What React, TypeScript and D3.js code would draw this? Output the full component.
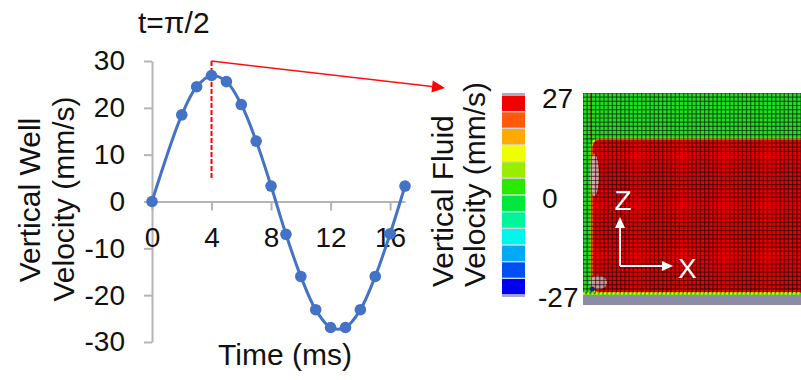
import * as d3 from 'd3';
import React, { useEffect, useRef } from 'react';

// well velocity trace (time in ms, velocity in mm/s)
const timeMs = [0, 2, 3, 4, 5, 6, 7, 8, 9, 10, 11, 12, 13, 14, 15, 16, 17];
const wellVelocity = [
  0, 18.5, 24.5, 26.9, 25.6, 20.7, 12.9, 3.3, -7.0, -16.0, -23.1, -26.9, -26.9,
  -23.1, -16.0, -6.9, 3.3,
];
const velocityTicks = [-30, -20, -10, 0, 10, 20, 30];
const timeTicks = [0, 4, 8, 12, 16];
const markerTime = 4;

// contour legend, bottom to top
const legendColors = [
  '#0000f0', '#0050f0', '#00aaf5', '#00f5eb', '#00f59a', '#00e840',
  '#2ae800', '#99ee00', '#eeff00', '#ffaa00', '#ff5a0a', '#f20000',
];
const legendTicks = [-27, 0, 27];

// simulation snapshot, in mesh cells
const meshCols = 52;
const meshRows = 48;
const wallCols = 2;
const plugTopRow = 11;
const ambientVelocity = 0;
const plugVelocity = 27;

const FONT = '"Liberation Sans", Arial, sans-serif';
const AXIS = '#b4b4b4';
const BLUE = '#4472c4';
const fmt = (d: d3.NumberValue) => String(d);

export default function App() {
  const ref = useRef<SVGSVGElement>(null);

  useEffect(() => {
    if (!ref.current) return;
    const svg = d3.select(ref.current);
    svg.selectAll('*').remove();

    const x = d3.scaleLinear().domain([0, 17]).range([152, 405]);
    const y = d3.scaleLinear().domain([-30, 30]).range([342, 61]);

    // Y axis
    const yAxis = svg
      .append('g')
      .attr('transform', `translate(${x(0)},0)`)
      .call(
        d3
          .axisLeft(y)
          .tickValues(velocityTicks)
          .tickFormat(fmt)
          .tickSize(8)
          .tickPadding(19)
          .tickSizeOuter(0)
      );
    yAxis.select('.domain').attr('stroke', AXIS).attr('stroke-width', 2);
    yAxis.selectAll('.tick line').attr('stroke', AXIS).attr('stroke-width', 2);
    yAxis
      .selectAll('.tick text')
      .attr('font-size', 28)
      .attr('font-family', FONT)
      .attr('fill', '#111');

    // X axis at zero
    const xAxis = svg
      .append('g')
      .attr('transform', `translate(0,${y(0)})`)
      .call(
        d3
          .axisBottom(x)
          .tickValues(timeTicks)
          .tickFormat(fmt)
          .tickSize(9)
          .tickPadding(17)
          .tickSizeOuter(0)
      );
    xAxis.select('.domain').attr('stroke', AXIS).attr('stroke-width', 2);
    xAxis.selectAll('.tick line').attr('stroke', AXIS).attr('stroke-width', 2);
    xAxis
      .selectAll('.tick text')
      .attr('font-size', 28)
      .attr('font-family', FONT)
      .attr('fill', '#111');

    // marker at t = pi/2
    svg
      .append('line')
      .attr('x1', x(markerTime))
      .attr('x2', x(markerTime))
      .attr('y1', y(30))
      .attr('y2', y(5))
      .attr('stroke', '#ff0000')
      .attr('stroke-width', 2)
      .attr('stroke-dasharray', '5,2');

    // series
    const pts = timeMs.map((t, i) => [t, wellVelocity[i]] as [number, number]);
    const line = d3
      .line<[number, number]>()
      .x(d => x(d[0]))
      .y(d => y(d[1]))
      .curve(d3.curveCatmullRom.alpha(0.5));
    svg
      .append('path')
      .datum(pts)
      .attr('d', line)
      .attr('fill', 'none')
      .attr('stroke', BLUE)
      .attr('stroke-width', 3);
    svg
      .append('g')
      .selectAll('circle')
      .data(pts)
      .enter()
      .append('circle')
      .attr('cx', d => x(d[0]))
      .attr('cy', d => y(d[1]))
      .attr('r', 5.8)
      .attr('fill', BLUE);

    // arrow to the snapshot
    const ax0 = x(markerTime);
    const ay0 = y(30);
    const ax1 = 445;
    const ay1 = 88;
    const ang = Math.atan2(ay1 - ay0, ax1 - ax0);
    const hl = 13;
    const hw = 6;
    const bx = ax1 - hl * Math.cos(ang);
    const by = ay1 - hl * Math.sin(ang);
    svg
      .append('line')
      .attr('x1', ax0)
      .attr('y1', ay0)
      .attr('x2', bx)
      .attr('y2', by)
      .attr('stroke', '#ff1010')
      .attr('stroke-width', 1.5);
    svg
      .append('polygon')
      .attr(
        'points',
        [
          [ax1, ay1],
          [bx + hw * Math.sin(ang), by - hw * Math.cos(ang)],
          [bx - hw * Math.sin(ang), by + hw * Math.cos(ang)],
        ]
          .map(p => p.join(','))
          .join(' ')
      )
      .attr('fill', '#ff0000');

    // titles
    const text = (s: string, px: number, py: number, size: number, anchor = 'start') =>
      svg
        .append('text')
        .attr('x', px)
        .attr('y', py)
        .attr('font-size', size)
        .attr('font-family', FONT)
        .attr('fill', '#111')
        .attr('text-anchor', anchor)
        .text(s);

    text('t=π/2', 138, 33, 30);
    text('Time (ms)', 285, 365, 30, 'middle');
    text('Vertical Well', 0, 0, 30, 'middle').attr('transform', 'translate(40,200) rotate(-90)');
    text('Velocity (mm/s)', 0, 0, 30, 'middle').attr('transform', 'translate(74,199) rotate(-90)');
    text('Vertical Fluid', 0, 0, 30).attr('transform', 'translate(453,287) rotate(-90)');
    text('Velocity (mm/s)', 0, 0, 30).attr('transform', 'translate(485,287) rotate(-90)');

    // colour legend
    const band = d3
      .scaleBand<number>()
      .domain(d3.range(legendColors.length))
      .range([295, 95])
      .paddingInner(0);
    const lg = svg.append('g');
    lg.append('rect')
      .attr('x', 502)
      .attr('y', 93)
      .attr('width', 23)
      .attr('height', 204)
      .attr('fill', '#a8a8c8');
    lg.selectAll('rect.sep')
      .data(legendColors)
      .enter()
      .append('rect')
      .attr('class', 'sep')
      .attr('x', 502)
      .attr('y', (d, i) => band(i) ?? 0)
      .attr('width', 23)
      .attr('height', band.bandwidth())
      .attr('fill', '#d8dce4');
    lg.selectAll('rect.cell')
      .data(legendColors)
      .enter()
      .append('rect')
      .attr('class', 'cell')
      .attr('x', 502)
      .attr('y', (d, i) => (band(i) ?? 0) + 0.7)
      .attr('width', 23)
      .attr('height', band.bandwidth() - 1.4)
      .attr('fill', d => d);
    const legendY = d3.scaleLinear().domain([-27, 27]).range([297, 98]);
    lg.selectAll('text')
      .data(legendTicks)
      .enter()
      .append('text')
      .attr('x', d => (d < 0 ? 538 : 542))
      .attr('y', d => legendY(d))
      .attr('dy', '0.36em')
      .attr('font-size', 28)
      .attr('font-family', FONT)
      .attr('fill', '#111')
      .text(d => d);

    // simulation snapshot
    const color = d3.scaleQuantize<string>().domain([-27, 27]).range(legendColors);
    const fx = d3.scaleLinear().domain([0, meshCols]).range([583, 801]);
    const fy = d3.scaleLinear().domain([0, meshRows]).range([93, 293]);
    const defs = svg.append('defs');
    defs
      .append('clipPath')
      .attr('id', 'field-clip')
      .append('rect')
      .attr('x', fx(0))
      .attr('y', fy(0))
      .attr('width', fx(meshCols) - fx(0))
      .attr('height', fy(meshRows) - fy(0) + 3);
    const field = svg.append('g').attr('clip-path', 'url(#field-clip)');
    field
      .append('rect')
      .attr('x', fx(0))
      .attr('y', fy(0))
      .attr('width', fx(meshCols) - fx(0))
      .attr('height', fy(meshRows) - fy(0) + 3)
      .attr('fill', '#22dd22');
    field
      .append('rect')
      .attr('x', fx(wallCols))
      .attr('y', fy(plugTopRow))
      .attr('width', fx(meshCols + 4) - fx(wallCols))
      .attr('height', fy(meshRows) - fy(plugTopRow))
      .attr('rx', 8)
      .attr('fill', color(plugVelocity) === '#f20000' ? '#e60000' : color(plugVelocity))
      .attr('stroke', '#e8e000')
      .attr('stroke-width', 2);
    // grey patches near the wall
    field
      .append('ellipse')
      .attr('cx', fx(2.7))
      .attr('cy', fy(19.7))
      .attr('rx', 4.5)
      .attr('ry', 21)
      .attr('fill', '#d0d0d0')
      .attr('opacity', 0.8);
    field
      .append('ellipse')
      .attr('cx', fx(3.6))
      .attr('cy', fy(45.5))
      .attr('rx', 9)
      .attr('ry', 7)
      .attr('fill', '#c8c8c8')
      .attr('opacity', 0.75);
    field
      .append('line')
      .attr('x1', fx(wallCols) - 0.5)
      .attr('x2', fx(wallCols) - 0.5)
      .attr('y1', fy(0))
      .attr('y2', fy(plugTopRow))
      .attr('stroke', '#a05a28')
      .attr('stroke-width', 1.5);
    // mesh
    field
      .append('g')
      .selectAll('line')
      .data(d3.range(meshCols + 1))
      .enter()
      .append('line')
      .attr('x1', d => fx(d))
      .attr('x2', d => fx(d))
      .attr('y1', fy(0))
      .attr('y2', fy(meshRows))
      .attr('stroke', '#000')
      .attr('stroke-opacity', 0.55)
      .attr('stroke-width', 1.2);
    field
      .append('g')
      .selectAll('line')
      .data(d3.range(meshRows + 1))
      .enter()
      .append('line')
      .attr('x1', fx(0))
      .attr('x2', fx(meshCols))
      .attr('y1', d => fy(d))
      .attr('y2', d => fy(d))
      .attr('stroke', '#000')
      .attr('stroke-opacity', 0.55)
      .attr('stroke-width', 1.2);
    field
      .append('line')
      .attr('x1', fx(0))
      .attr('x2', fx(meshCols))
      .attr('y1', fy(meshRows) + 0.5)
      .attr('y2', fy(meshRows) + 0.5)
      .attr('stroke', '#e6e600')
      .attr('stroke-width', 2.5)
      .attr('stroke-dasharray', '2.2,2');
    field
      .append('circle')
      .attr('cx', fx(wallCols) + 1)
      .attr('cy', fy(meshRows) - 4)
      .attr('r', 2.5)
      .attr('fill', '#1a2a6a');
    svg
      .append('rect')
      .attr('x', fx(0))
      .attr('y', 296)
      .attr('width', fx(meshCols) - fx(0))
      .attr('height', 9)
      .attr('fill', '#8c8ca6');

    // Z / X direction arrows
    const ox = 620;
    const oz = 266;
    const dirs = [
      { label: 'Z', dx: 0, dy: -49, lx: 623, ly: 210, anchor: 'middle' },
      { label: 'X', dx: 53, dy: 0, lx: 678, ly: 278, anchor: 'start' },
    ];
    dirs.forEach(dd => {
      const len = Math.hypot(dd.dx, dd.dy);
      const ux = dd.dx / len;
      const uy = dd.dy / len;
      const tx = ox + dd.dx;
      const ty = oz + dd.dy;
      svg
        .append('line')
        .attr('x1', ox)
        .attr('y1', oz)
        .attr('x2', tx - ux * 10)
        .attr('y2', ty - uy * 10)
        .attr('stroke', '#fff')
        .attr('stroke-width', 2);
      svg
        .append('polygon')
        .attr(
          'points',
          [
            [tx, ty],
            [tx - ux * 11 - uy * 5, ty - uy * 11 + ux * 5],
            [tx - ux * 11 + uy * 5, ty - uy * 11 - ux * 5],
          ]
            .map(p => p.join(','))
            .join(' ')
        )
        .attr('fill', '#fff');
      svg
        .append('text')
        .attr('x', dd.lx)
        .attr('y', dd.ly)
        .attr('text-anchor', dd.anchor)
        .attr('font-size', 28)
        .attr('font-family', FONT)
        .attr('fill', '#fff')
        .text(dd.label);
    });
  }, []);

  return (
    <svg
      ref={ref}
      width={801}
      height={380}
      style={{ position: 'absolute', left: 0, top: 0, background: '#fff' }}
    />
  );
}
